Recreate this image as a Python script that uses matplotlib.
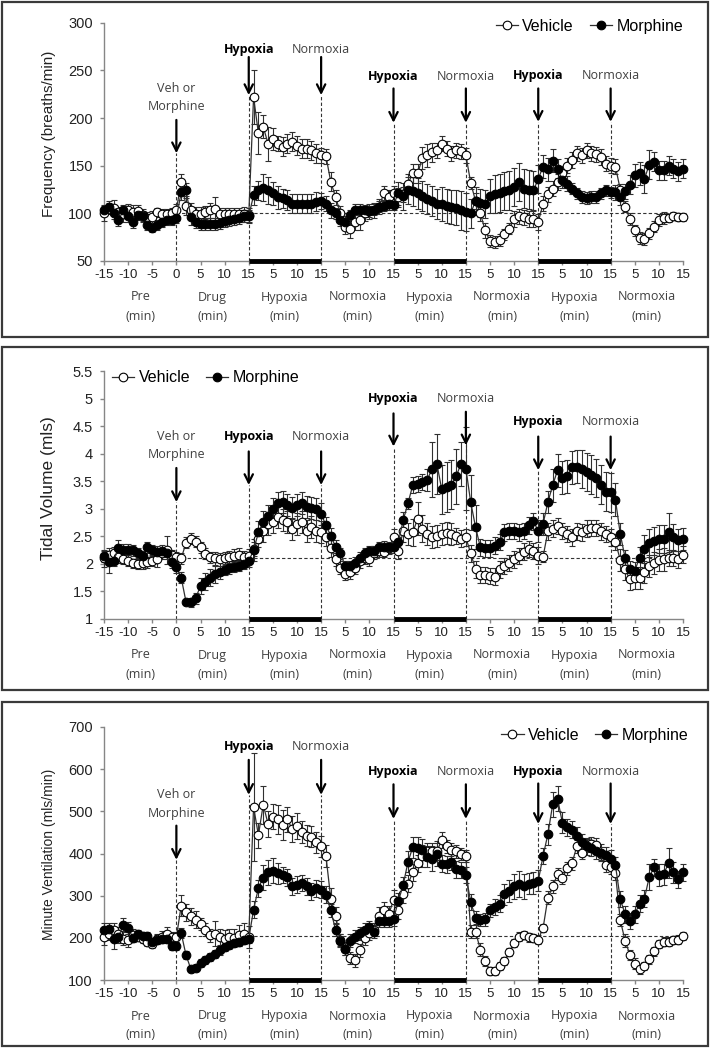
import numpy as np
import matplotlib
matplotlib.use('Agg')
import matplotlib.pyplot as plt
from matplotlib.lines import Line2D
from matplotlib.patches import Rectangle

# time axis: one point per minute, -15 (pre) to 105 (end of last normoxia)
minutes = list(range(-15, 106))

# ---------------- Frequency (breaths/min) ----------------
freq_veh = [100, 105, 106, 101, 99, 103, 101, 102, 98, 95, 96, 101, 99, 99, 100, 104,
            133, 108, 103, 99, 99, 101, 103, 105, 99, 99, 99, 99, 99, 99, 98,
            222, 184, 191, 173, 178, 173, 170, 173, 175, 171, 168, 168, 166, 163, 161,
            160, 133, 117, 100, 86, 84, 91, 93, 100, 102, 103, 107, 121, 117, 121,
            117, 120, 131, 142, 142, 158, 161, 164, 166, 173, 168, 163, 166, 165, 161,
            132, 113, 100, 82, 71, 70, 72, 78, 84, 94, 97, 96, 94, 94, 91,
            110, 120, 126, 133, 142, 150, 156, 163, 161, 166, 163, 162, 159, 152, 150,
            149, 125, 107, 94, 82, 74, 73, 79, 86, 93, 95, 95, 97, 96, 96]
freq_veh_err = [8, 6, 8, 6, 8, 7, 8, 7, 7, 6, 6, 5, 6, 6, 6, 6,
                8, 10, 8, 8, 8, 7, 8, 12, 7, 7, 7, 7, 7, 8, 8,
                28, 22, 12, 18, 12, 8, 10, 10, 10, 10, 10, 10, 10, 10, 8,
                8, 10, 8, 8, 8, 10, 8, 10, 8, 8, 8, 8, 8, 8, 8,
                10, 8, 10, 10, 10, 12, 12, 10, 8, 8, 8, 8, 8, 8, 8,
                6, 8, 8, 8, 6, 6, 6, 6, 6, 8, 8, 8, 8, 8, 8,
                8, 8, 8, 8, 8, 8, 8, 8, 8, 8, 8, 8, 8, 8, 8,
                8, 6, 6, 6, 6, 6, 6, 6, 6, 6, 6, 4, 4, 4, 4]
freq_mor = [103, 107, 100, 93, 103, 97, 91, 98, 97, 88, 85, 88, 91, 93, 93, 95,
            122, 124, 96, 91, 89, 89, 89, 89, 90, 92, 93, 94, 95, 97, 97,
            119, 124, 127, 124, 121, 117, 116, 114, 110, 110, 110, 110, 110, 112, 113,
            110, 103, 100, 93, 91, 98, 104, 104, 103, 102, 104, 107, 108, 110, 109,
            121, 118, 124, 123, 121, 118, 115, 113, 110, 110, 108, 107, 106, 103, 101,
            100, 113, 111, 110, 118, 120, 121, 123, 124, 128, 133, 126, 125, 124, 136,
            149, 146, 155, 147, 135, 131, 126, 121, 117, 116, 117, 117, 121, 124, 122,
            122, 117, 123, 130, 140, 142, 136, 151, 154, 145, 145, 150, 147, 144, 147]
freq_mor_err = [6, 6, 6, 6, 6, 6, 6, 5, 5, 5, 5, 5, 5, 5, 5, 5,
                8, 8, 8, 6, 6, 6, 6, 6, 6, 6, 6, 6, 6, 6, 6,
                10, 10, 14, 14, 12, 12, 10, 10, 10, 10, 10, 10, 10, 10, 8,
                8, 8, 6, 6, 6, 6, 6, 6, 6, 6, 6, 6, 6, 6, 6,
                12, 14, 14, 15, 16, 16, 16, 16, 16, 18, 18, 18, 18, 20, 20,
                15, 15, 15, 15, 18, 20, 20, 20, 20, 20, 20, 20, 20, 20, 15,
                12, 12, 12, 10, 8, 8, 6, 6, 6, 6, 6, 6, 6, 6, 6,
                8, 8, 8, 10, 12, 12, 15, 15, 10, 10, 10, 10, 10, 10, 10]

# ---------------- Tidal volume (mls) ----------------
tv_veh = [2.1, 2.16, 2.19, 2.12, 2.09, 2.06, 2.01, 2.0, 2.01, 2.03, 2.06, 2.09, 2.19, 2.25, 2.16, 2.12,
          2.1, 2.38, 2.46, 2.4, 2.3, 2.18, 2.12, 2.1, 2.08, 2.1, 2.12, 2.15, 2.17, 2.12, 2.15,
          2.27, 2.45, 2.6, 2.73, 2.76, 2.85, 2.79, 2.76, 2.64, 2.73, 2.76, 2.6, 2.67, 2.6, 2.57,
          2.48, 2.28, 2.08, 1.93, 1.82, 1.85, 1.93, 2.05, 2.11, 2.09, 2.2, 2.23, 2.22, 2.28, 2.48,
          2.23, 2.59, 2.54, 2.57, 2.82, 2.64, 2.54, 2.48, 2.51, 2.54, 2.56, 2.54, 2.51, 2.46, 2.48,
          2.19, 1.9, 1.8, 1.8, 1.78, 1.77, 1.9, 1.96, 2.02, 2.08, 2.14, 2.22, 2.27, 2.23, 2.15,
          2.13, 2.59, 2.64, 2.69, 2.6, 2.54, 2.48, 2.59, 2.57, 2.64, 2.65, 2.65, 2.59, 2.54, 2.48,
          2.4, 2.07, 1.9, 1.72, 1.74, 1.74, 1.86, 1.96, 2.02, 2.07, 2.08, 2.11, 2.11, 2.08, 2.17]
tv_veh_err = [0.15, 0.12, 0.12, 0.1, 0.1, 0.1, 0.08, 0.1, 0.1, 0.1, 0.1, 0.15, 0.1, 0.25, 0.1, 0.1,
              0.1, 0.1, 0.1, 0.1, 0.1, 0.1, 0.1, 0.12, 0.12, 0.12, 0.12, 0.12, 0.12, 0.12, 0.12,
              0.12, 0.15, 0.2, 0.2, 0.2, 0.2, 0.2, 0.2, 0.2, 0.2, 0.2, 0.2, 0.2, 0.2, 0.2,
              0.15, 0.15, 0.12, 0.12, 0.12, 0.12, 0.12, 0.12, 0.12, 0.12, 0.12, 0.1, 0.1, 0.1, 0.15,
              0.15, 0.2, 0.2, 0.25, 0.3, 0.25, 0.2, 0.2, 0.2, 0.2, 0.2, 0.2, 0.15, 0.15, 0.15,
              0.15, 0.15, 0.15, 0.15, 0.15, 0.15, 0.15, 0.15, 0.15, 0.15, 0.15, 0.15, 0.15, 0.15, 0.15,
              0.1, 0.15, 0.15, 0.15, 0.15, 0.15, 0.15, 0.15, 0.15, 0.15, 0.15, 0.15, 0.15, 0.15, 0.15,
              0.15, 0.2, 0.2, 0.2, 0.2, 0.2, 0.2, 0.2, 0.2, 0.2, 0.2, 0.15, 0.15, 0.15, 0.15]
tv_mor = [2.14, 2.03, 2.06, 2.28, 2.26, 2.26, 2.25, 2.19, 2.14, 2.3, 2.25, 2.22, 2.24, 2.19, 2.03, 1.94,
          1.75, 1.31, 1.3, 1.38, 1.6, 1.68, 1.75, 1.81, 1.85, 1.89, 1.92, 1.95, 1.97, 2.0, 2.05,
          2.25, 2.57, 2.76, 2.87, 2.99, 3.1, 3.13, 3.07, 3.02, 3.07, 3.1, 3.04, 3.01, 2.99, 2.91,
          2.7, 2.51, 2.31, 2.19, 1.96, 1.96, 2.02, 2.11, 2.19, 2.23, 2.23, 2.3, 2.31, 2.3, 2.3,
          2.39, 2.79, 3.1, 3.43, 3.45, 3.49, 3.53, 3.72, 3.81, 3.35, 3.39, 3.44, 3.59, 3.82, 3.73,
          3.12, 2.67, 2.3, 2.28, 2.28, 2.33, 2.4, 2.57, 2.6, 2.6, 2.57, 2.6, 2.7, 2.77, 2.6,
          2.73, 3.12, 3.43, 3.7, 3.56, 3.59, 3.75, 3.76, 3.72, 3.67, 3.62, 3.56, 3.44, 3.31, 3.3,
          3.16, 2.54, 2.11, 1.9, 1.88, 2.11, 2.27, 2.38, 2.42, 2.45, 2.45, 2.57, 2.48, 2.44, 2.45]
tv_mor_err = [0.1, 0.2, 0.1, 0.15, 0.1, 0.1, 0.1, 0.1, 0.1, 0.1, 0.1, 0.1, 0.1, 0.1, 0.1, 0.1,
              0.1, 0.05, 0.08, 0.1, 0.15, 0.15, 0.15, 0.15, 0.12, 0.1, 0.1, 0.1, 0.1, 0.1, 0.1,
              0.2, 0.2, 0.2, 0.2, 0.2, 0.2, 0.2, 0.2, 0.2, 0.2, 0.2, 0.2, 0.2, 0.2, 0.2,
              0.15, 0.15, 0.12, 0.1, 0.1, 0.1, 0.1, 0.1, 0.1, 0.1, 0.1, 0.1, 0.1, 0.1, 0.1,
              0.1, 0.15, 0.1, 0.15, 0.15, 0.15, 0.2, 0.5, 0.55, 0.45, 0.45, 0.45, 0.5, 0.4, 0.75,
              0.5, 0.4, 0.15, 0.15, 0.15, 0.15, 0.15, 0.15, 0.15, 0.15, 0.15, 0.15, 0.15, 0.15, 0.2,
              0.2, 0.2, 0.3, 0.3, 0.3, 0.3, 0.3, 0.3, 0.35, 0.35, 0.35, 0.35, 0.35, 0.35, 0.35,
              0.3, 0.2, 0.15, 0.15, 0.15, 0.2, 0.25, 0.25, 0.25, 0.25, 0.25, 0.35, 0.25, 0.2, 0.2]

# ---------------- Minute ventilation (mls/min) ----------------
mv_veh = [202, 210, 219, 210, 198, 194, 206, 202, 198, 190, 186, 198, 202, 210, 202, 202,
          276, 261, 251, 243, 233, 219, 206, 210, 202, 198, 202, 200, 206, 210, 202,
          511, 443, 516, 470, 487, 481, 468, 481, 458, 465, 451, 442, 440, 427, 417,
          394, 293, 252, 195, 174, 152, 147, 170, 199, 211, 219, 252, 265, 256, 289,
          265, 303, 328, 355, 377, 394, 405, 405, 405, 432, 417, 409, 405, 399, 394,
          215, 215, 172, 145, 122, 122, 133, 145, 166, 188, 203, 207, 201, 199, 196,
          223, 295, 322, 351, 342, 365, 377, 417, 402, 419, 423, 421, 400, 372, 367,
          353, 242, 193, 160, 139, 125, 133, 149, 168, 186, 191, 191, 195, 196, 205]
mv_veh_err = [20, 15, 15, 15, 15, 15, 15, 10, 10, 10, 10, 12, 15, 15, 12, 12,
              25, 20, 20, 20, 15, 15, 15, 30, 20, 20, 20, 20, 25, 25, 25,
              128, 30, 45, 30, 30, 35, 35, 30, 30, 30, 25, 25, 25, 25, 25,
              25, 25, 20, 15, 15, 15, 15, 15, 15, 15, 15, 20, 20, 20, 25,
              20, 20, 20, 20, 20, 25, 20, 20, 20, 20, 15, 15, 15, 15, 15,
              15, 15, 15, 12, 10, 10, 10, 10, 10, 10, 10, 10, 10, 10, 10,
              10, 15, 15, 15, 15, 15, 15, 15, 15, 15, 15, 15, 15, 15, 15,
              15, 15, 15, 12, 12, 10, 10, 10, 10, 10, 10, 10, 10, 10, 10]
mv_mor = [219, 221, 198, 202, 231, 223, 200, 208, 204, 204, 190, 196, 198, 198, 180, 180,
          211, 159, 126, 129, 140, 148, 155, 161, 170, 178, 183, 188, 191, 195, 198,
          267, 318, 343, 355, 359, 353, 349, 344, 322, 326, 330, 322, 310, 318, 314,
          302, 265, 219, 193, 174, 193, 203, 211, 219, 226, 215, 240, 240, 240, 244,
          287, 325, 380, 415, 413, 409, 392, 388, 400, 376, 374, 380, 363, 361, 349,
          285, 248, 242, 244, 265, 273, 281, 303, 311, 322, 328, 322, 328, 330, 335,
          394, 446, 517, 530, 473, 462, 456, 442, 427, 417, 413, 407, 402, 396, 388,
          372, 292, 256, 240, 256, 281, 293, 344, 367, 349, 351, 377, 355, 339, 355]
mv_mor_err = [15, 15, 25, 15, 15, 15, 10, 10, 10, 10, 10, 10, 10, 10, 10, 10,
              12, 10, 8, 8, 10, 10, 10, 10, 10, 10, 10, 10, 10, 10, 10,
              20, 20, 30, 30, 30, 25, 20, 20, 20, 20, 20, 20, 20, 20, 20,
              20, 15, 15, 15, 15, 15, 15, 15, 15, 15, 15, 15, 15, 15, 15,
              20, 20, 25, 25, 25, 25, 25, 30, 30, 20, 20, 20, 20, 20, 20,
              20, 15, 15, 15, 15, 20, 20, 25, 25, 30, 30, 30, 25, 25, 25,
              20, 25, 30, 30, 25, 20, 20, 20, 20, 20, 20, 20, 20, 20, 20,
              20, 20, 20, 20, 20, 20, 20, 30, 20, 25, 25, 35, 25, 20, 20]

# segment names under the x axis and their centres
segment_names = ['Pre', 'Drug', 'Hypoxia', 'Normoxia', 'Hypoxia', 'Normoxia', 'Hypoxia', 'Normoxia']
segment_centres = [-7.5, 7.5, 22.5, 37.5, 52.5, 67.5, 82.5, 97.5]
switch_times = [15, 30, 45, 60, 75, 90]
switch_names = ['Hypoxia', 'Normoxia', 'Hypoxia', 'Normoxia', 'Hypoxia', 'Normoxia']
hypoxia_spans = [(15, 30), (45, 60), (75, 90)]

TICK_FONT = 'Liberation Sans'
NOTE_FONT = 'Open Sans'
GREY = '#868686'
NOTE_COL = '#404040'

W, H = 710, 1050
fig = plt.figure(figsize=(W / 100, H / 100), dpi=100)


def px_axes(left, top, right, bottom):
    return fig.add_axes([left / W, 1 - bottom / H, (right - left) / W, (bottom - top) / H])


def tick_label(t):
    return str(t) if t <= 15 else str((t - 1) % 15 + 1)


def draw_panel(ax, veh, veh_err, mor, mor_err, ylim, yticks, ylabel, ylab_size, ylab_y, base,
               veh_note, switch_notes, legend_pos):
    # data series (vehicle first, morphine drawn on top)
    for vals, err, face in [(veh, veh_err, 'white'), (mor, mor_err, 'black')]:
        eb = ax.errorbar(minutes, vals, yerr=err, fmt='-o', color='#303030', lw=0.9,
                         ms=6.2, mfc=face, mec='black', mew=0.8, ecolor='#303030',
                         elinewidth=0.8, capsize=2, capthick=0.8, zorder=3)
        for a in [eb.lines[0], *eb.lines[1], *eb.lines[2]]:
            a.set_clip_on(False)

    ax.set_xlim(-15, 105)
    ax.set_ylim(*ylim)
    ymin = ylim[0]

    # baseline reference and hypoxia bars
    ax.plot([0, 105], [base, base], ls=(0, (3, 2)), lw=0.8, color='#333333', zorder=1)
    for a, b in hypoxia_spans:
        ax.plot([a, b], [ymin, ymin], color='black', lw=3.5, solid_capstyle='butt',
                clip_on=False, zorder=5)

    # injection arrow
    txt1, txt2, a_top, a_tip = veh_note
    ax.text(0, txt1, 'Veh or', ha='center', va='center', fontsize=9, family=NOTE_FONT, color=NOTE_COL)
    ax.text(0, txt2, 'Morphine', ha='center', va='center', fontsize=9, family=NOTE_FONT, color=NOTE_COL)
    ax.annotate('', xy=(0, a_tip), xytext=(0, a_top),
                arrowprops=dict(arrowstyle='->,head_length=0.6,head_width=0.3', lw=1.6,
                                color='black', shrinkA=0, shrinkB=0))
    ax.plot([0, 0], [ymin, a_tip], ls=(0, (3, 2)), lw=0.8, color='#333333', zorder=1)

    # gas switch arrows
    for t, name, (ty, top, tip) in zip(switch_times, switch_names, switch_notes):
        bold = name == 'Hypoxia'
        ax.text(t, ty, name, ha='center', va='center', fontsize=9, family=NOTE_FONT,
                fontweight='bold' if bold else 'normal', color='black' if bold else NOTE_COL)
        ax.annotate('', xy=(t, tip), xytext=(t, top),
                    arrowprops=dict(arrowstyle='->,head_length=0.6,head_width=0.3', lw=1.6,
                                    color='black', shrinkA=0, shrinkB=0))
        ax.plot([t, t], [ymin, tip], ls=(0, (3, 2)), lw=0.8, color='#333333', zorder=1)

    # axes styling
    for s in ['top', 'right']:
        ax.spines[s].set_visible(False)
    for s in ['left', 'bottom']:
        ax.spines[s].set_color(GREY)
        ax.spines[s].set_linewidth(1)
    xt = list(range(-15, 106, 5))
    ax.set_xticks(xt)
    ax.set_xticklabels([tick_label(t) for t in xt], family=TICK_FONT, fontsize=9.5, color='#222222')
    ax.set_yticks(yticks)
    ax.set_yticklabels([('%g' % v) for v in yticks], family=TICK_FONT, fontsize=10.5, color='#222222')
    ax.tick_params(axis='x', direction='out', length=3, width=1, color=GREY, pad=3)
    ax.tick_params(axis='y', direction='out', length=3, width=1, color=GREY, pad=5)
    ax.set_ylabel(ylabel, family=TICK_FONT, fontsize=ylab_size, color='#222222')
    ax.yaxis.set_label_coords(-0.083, ylab_y)

    # segment names under the axis
    for c, name in zip(segment_centres, segment_names):
        ax.annotate(name, xy=(c, 0), xycoords=('data', 'axes fraction'), xytext=(0, -36),
                    textcoords='offset pixels', ha='center', va='center', fontsize=9,
                    family=NOTE_FONT, color=NOTE_COL, annotation_clip=False)
        ax.annotate('(min)', xy=(c, 0), xycoords=('data', 'axes fraction'), xytext=(0, -55),
                    textcoords='offset pixels', ha='center', va='center', fontsize=9,
                    family=NOTE_FONT, color=NOTE_COL, annotation_clip=False)

    # legend
    handles = [Line2D([], [], color='#303030', lw=0.9, marker='o', ms=6.2, mfc='white', mec='black', mew=0.8),
               Line2D([], [], color='#303030', lw=0.9, marker='o', ms=6.2, mfc='black', mec='black', mew=0.8)]
    loc, anchor = legend_pos
    ax.legend(handles, ['Vehicle', 'Morphine'], loc=loc, bbox_to_anchor=anchor, ncol=2,
              frameon=False, borderpad=0, borderaxespad=0, handlelength=1.4,
              handletextpad=0.25, columnspacing=1.0, prop={'family': TICK_FONT, 'size': 11.5})


# panel frames
for top, bottom in [(2, 337), (347, 690), (702, 1046)]:
    fig.add_artist(Rectangle((2 / W, 1 - bottom / H), 706 / W, (bottom - top) / H,
                             transform=fig.transFigure, fill=False, ec='#3a3a3a', lw=1.6))

# Frequency
ax1 = px_axes(104, 22.7, 683, 261)
draw_panel(ax1, freq_veh, freq_veh_err, freq_mor, freq_mor_err, (50, 300), list(range(50, 301, 50)),
           'Frequency (breaths/min)', 11, 0.534, 100,
           (231, 212, 198, 163),
           [(272, 264, 224), (272, 264, 224), (244, 231, 195), (244, 231, 195),
            (245, 231, 196), (245, 231, 196)],
           ('center right', (1.0, 0.986)))

# Tidal volume
ax2 = px_axes(104, 371, 683, 619)
draw_panel(ax2, tv_veh, tv_veh_err, tv_mor, tv_mor_err, (1, 5.5), [1, 1.5, 2, 2.5, 3, 3.5, 4, 4.5, 5, 5.5],
           'Tidal Volume (mls)', 12.5, 0.528, 2.1,
           (4.31, 3.98, 3.74, 3.12),
           [(4.31, 4.04, 3.43), (4.31, 4.04, 3.43), (5.0, 4.73, 4.13), (5.0, 4.76, 4.15),
            (4.58, 4.31, 3.7), (4.58, 4.31, 3.7)],
           ('center left', (0.014, 0.972)))

# Minute ventilation
ax3 = px_axes(104, 727, 683, 980)
draw_panel(ax3, mv_veh, mv_veh_err, mv_mor, mv_mor_err, (100, 700), list(range(100, 701, 100)),
           'Minute Ventilation (mls/min)', 10, 0.498, 205,
           (539, 495, 466, 385),
           [(653, 622, 539), (653, 622, 539), (594, 564, 482), (594, 564, 482),
            (594, 566, 470), (594, 566, 470)],
           ('center right', (1.009, 0.968)))

plt.savefig('out.png', dpi=100)
